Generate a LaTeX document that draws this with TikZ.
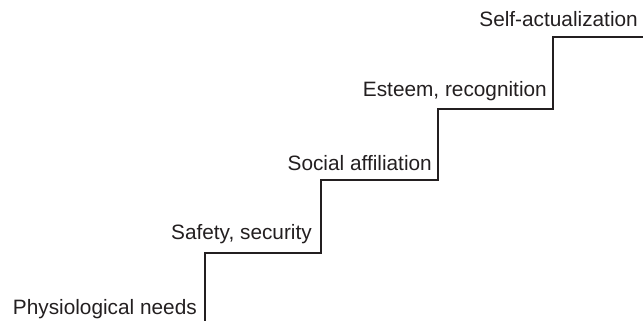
\documentclass[tikz,border=0pt]{standalone}
\usepackage{fontspec}
\setmainfont{Liberation Sans}
\definecolor{ink}{HTML}{231F20}
\begin{document}
\begin{tikzpicture}[x=1pt,y=1pt,
  stair/.style={draw=ink,line width=2.4pt,line join=miter},
  level/.style={anchor=base east,text=ink,font=\fontsize{20.8}{24}\selectfont,inner sep=0pt}]
\useasboundingbox (0,0) rectangle (643,321);
% corners of the staircase
\coordinate (s0) at (205,0);
\coordinate (s1) at (205,68);
\coordinate (t1) at (321,68);
\coordinate (s2) at (321,141);
\coordinate (t2) at (438,141);
\coordinate (s3) at (438,212);
\coordinate (t3) at (553,212);
\coordinate (s4) at (553,284);
\coordinate (t4) at (643,284);
\draw[stair] (s0) -- (s1) -- (t1) -- (s2) -- (t2) -- (s3) -- (t3) -- (s4) -- (t4);
% level labels, each set just left of its riser
\node[level] (l0) at (197,6) {Physiological needs};
\node[level] (l1) at (312,81) {Safety, security};
\node[level] (l2) at (432,150) {Social affiliation};
\node[level] (l3) at (547,224) {Esteem, recognition};
\node[level] (l4) at (638,294) {Self-actualization};
\end{tikzpicture}
\end{document}
